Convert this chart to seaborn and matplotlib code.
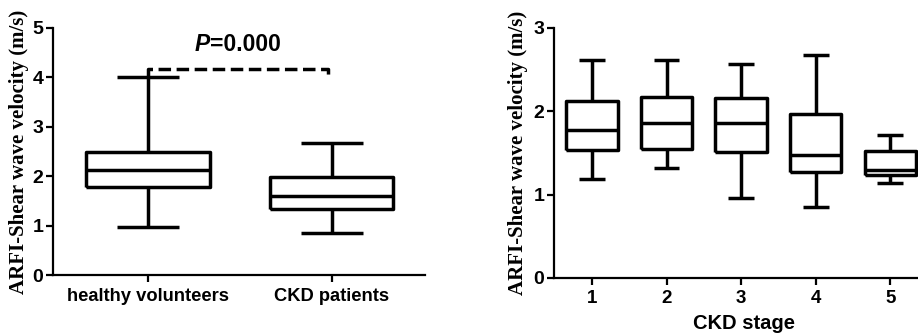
import matplotlib
matplotlib.use("Agg")
import matplotlib.pyplot as plt
import seaborn as sns
import pandas as pd

# Five-number summaries: min, Q1, median, Q3, max
group_labels = ["healthy volunteers", "CKD patients"]
healthy = [0.97, 1.78, 2.12, 2.49, 4.00]
ckd = [0.84, 1.33, 1.59, 1.99, 2.68]

stage_labels = ["1", "2", "3", "4", "5"]
stage1 = [1.19, 1.54, 1.77, 2.12, 2.61]
stage2 = [1.32, 1.55, 1.86, 2.17, 2.61]
stage3 = [0.96, 1.51, 1.86, 2.16, 2.57]
stage4 = [0.85, 1.27, 1.47, 1.97, 2.68]
stage5 = [1.14, 1.23, 1.29, 1.52, 1.71]

p_text = "=0.000"
bracket_y = 4.16

sns.set_theme(style="ticks")
plt.rcParams["font.family"] = ["Liberation Sans", "DejaVu Sans"]
plt.rcParams["font.weight"] = "bold"
plt.rcParams["axes.labelweight"] = "bold"
plt.rcParams["ytick.labelsize"] = 14
plt.rcParams["xtick.labelsize"] = 13.2

df1 = pd.DataFrame({
    "group": [group_labels[0]] * len(healthy) + [group_labels[1]] * len(ckd),
    "v": healthy + ckd,
})
stages = [stage1, stage2, stage3, stage4, stage5]
df2 = pd.DataFrame({
    "stage": [lab for lab, s in zip(stage_labels, stages) for _ in s],
    "v": [x for s in stages for x in s],
})

fig = plt.figure(figsize=(9.18, 3.34), dpi=100)
ax1 = fig.add_axes([0.0577, 0.1766, 0.405, 0.740])
ax2 = fig.add_axes([0.6035, 0.1677, 0.415, 0.749])

lw = 2.5
common = dict(whis=(0, 100), fill=False, color="black", linecolor="black",
              linewidth=lw)
sns.boxplot(data=df1, x="group", y="v", order=group_labels, width=0.67,
            ax=ax1, **common)
sns.boxplot(data=df2, x="stage", y="v", order=stage_labels, width=0.69,
            ax=ax2, **common)

for ax in (ax1, ax2):
    for ln in ax.lines:
        ln.set_solid_capstyle("butt")
    sns.despine(ax=ax)
    for sp in ("left", "bottom"):
        ax.spines[sp].set_linewidth(1.6)
        ax.spines[sp].set_color("black")
    ax.tick_params(axis="both", width=1.6, length=5, color="black",
                   labelcolor="black", pad=2)
    ax.tick_params(axis="y", labelsize=14)
    ax.set_xlabel("")
    ax.set_ylabel("ARFI-Shear wave velocity (m/s)", family="Liberation Serif",
                  fontweight="bold", fontsize=15, color="black")

ax1.tick_params(axis="x", labelsize=13.2, pad=4)
ax2.tick_params(axis="x", labelsize=13.5, pad=4)

ax1.set_ylim(0, 5)
ax1.set_yticks([0, 1, 2, 3, 4, 5])
ax1.set_xlim(-0.516, 1.505)
ax2.set_ylim(0, 3)
ax2.set_yticks([0, 1, 2, 3])
ax2.set_xlim(-0.51, 4.6)

ax1.yaxis.set_label_coords(-0.064, 0.5)
ax2.yaxis.set_label_coords(-0.068, 0.5)
ax2.set_xlabel("CKD stage", fontweight="bold", fontsize=14.5, color="black",
               labelpad=5)

# significance bracket
ax1.plot([0, 0, 0.98, 0.98], [healthy[-1], bracket_y, bracket_y, 4.02],
         color="black", lw=2.5, linestyle=(0, (3.6, 1.6)), solid_capstyle="butt",
         dash_capstyle="butt")
ax1.text(0.337, 4.66, "P", fontsize=16.5, fontweight="bold", style="italic",
         ha="right", va="center", color="black")
ax1.text(0.337, 4.66, p_text, fontsize=16.5, fontweight="bold",
         ha="left", va="center", color="black")

fig.savefig("out.png", dpi=100, facecolor="white")
